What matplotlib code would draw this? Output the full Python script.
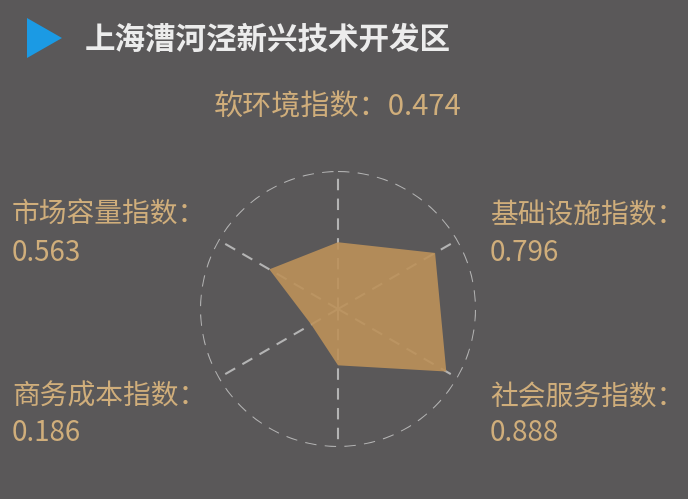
import numpy as np
import matplotlib
matplotlib.use("Agg")
import matplotlib.pyplot as plt
from matplotlib.patches import Polygon

plt.rcParams['font.family'] = ['Noto Sans CJK SC', 'DejaVu Sans']

title = "上海漕河泾新兴技术开发区"
# axes clockwise from top; the bottom axis has no visible label
axis_names = ["软环境指数", "基础设施指数", "社会服务指数", "", "商务成本指数", "市场容量指数"]
values = [0.474, 0.796, 0.888, 0.40, 0.22, 0.563]
value_labels = ["0.474", "0.796", "0.888", "", "0.186", "0.563"]

BG = "#5a5859"
TAN = "#d0ae7b"
FILL = "#bc9159"
GRID = "#b4b4b4"

W, H = 688, 499
fig = plt.figure(figsize=(W / 100, H / 100), dpi=100, facecolor=BG)

def fx(px):
    return px / W

def fy(py):
    return 1 - py / H

# radar axes
cx, cy, R = 338, 309, 138
ax = fig.add_axes([fx(cx - R), fy(cy + R), 2 * R / W, 2 * R / H], projection='polar')
ax.set_facecolor('none')
ax.set_theta_offset(np.pi / 2)
ax.set_theta_direction(-1)
rmax = 0.98
ax.set_ylim(0, rmax)
ax.grid(False)
ax.spines['polar'].set_visible(False)
ax.set_xticks([])
ax.set_yticks([])

n = len(values)
angles = np.linspace(0, 2 * np.pi, n, endpoint=False)
th = np.linspace(0, 2 * np.pi, 400)
ax.plot(th, np.full_like(th, rmax), color=GRID, lw=1.5, ls=(0, (5.5, 4)), zorder=1)
for a in angles:
    ax.plot([a, a], [0, rmax], color=GRID, lw=1.5, ls=(0, (5.5, 4)), zorder=1)
closed_a = np.concatenate([angles, angles[:1]])
closed_v = np.concatenate([values, values[:1]])
ax.fill(closed_a, closed_v, color=FILL, alpha=0.9, lw=0, zorder=2)

# title with triangle
tri = Polygon([[fx(27), fy(18)], [fx(27), fy(58)], [fx(62), fy(38)]],
              closed=True, transform=fig.transFigure, color="#1b9ae4", lw=0)
fig.patches.append(tri)
fig.text(fx(85), fy(40), title, color="#ececec", fontsize=22, fontweight='bold',
         va='center', ha='left')

# labels
fs = 20
fig.text(fx(338), fy(107), f"{axis_names[0]}：{value_labels[0]}", color=TAN,
         fontsize=21, ha='center', va='center')

side = [
    (1, 490, 215, 253),
    (2, 490, 397, 433),
    (4, 12, 397, 433),
    (5, 12, 215, 253),
]
for i, x, y1, y2 in side:
    fig.text(fx(x), fy(y1), f"{axis_names[i]}：", color=TAN, fontsize=fs,
             ha='left', va='center')
    fig.text(fx(x), fy(y2), value_labels[i], color=TAN, fontsize=fs,
             ha='left', va='center')

fig.savefig("out.png", dpi=100, facecolor=BG)
